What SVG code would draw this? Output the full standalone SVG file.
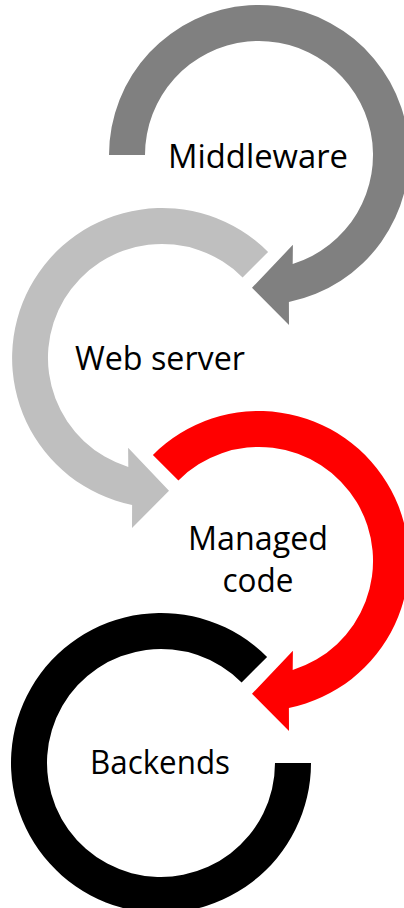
<svg xmlns="http://www.w3.org/2000/svg" width="404" height="908" viewBox="0 0 404 908">
<style>
.lbl{font-family:"Open Sans","Liberation Sans",sans-serif;font-size:32px;fill:#000;text-anchor:middle}
</style>
<rect width="404" height="908" fill="#fff"/>
<g id="middleware">
<path fill="#808080" d="M109,155 A150,150 0 1 1 288.9,302 L289,325 L252,287.8 L292.9,244.8 L292.7,263.9 A114,114 0 1 0 145,155 Z"/>
<text class="lbl" x="258" y="168" textLength="180" lengthAdjust="spacingAndGlyphs">Middleware</text>
</g>
<g id="web-server">
<path fill="#BFBFBF" d="M268.1,251.9 A150,150 0 1 0 132.1,505 L132,528 L169,490.8 L128.1,447.8 L128.3,466.9 A114,114 0 1 1 242.6,277.4 Z"/>
<text class="lbl" x="160" y="370" textLength="170" lengthAdjust="spacingAndGlyphs">Web server</text>
</g>
<g id="managed-code">
<path fill="#FF0000" d="M152.9,454.9 A150,150 0 1 1 288.9,708 L289,731 L252,693.8 L292.9,650.8 L292.7,669.9 A114,114 0 1 0 178.4,480.4 Z"/>
<text class="lbl" x="258" y="550" textLength="140" lengthAdjust="spacingAndGlyphs">Managed</text>
<text class="lbl" x="258" y="592" textLength="71" lengthAdjust="spacingAndGlyphs">code</text>
</g>
<g id="backends">
<path fill="#000000" d="M267.1,656.9 A150,150 0 1 0 311,763 L275,763 A114,114 0 1 1 241.6,682.4 Z"/>
<text class="lbl" x="160" y="774" textLength="140" lengthAdjust="spacingAndGlyphs">Backends</text>
</g>
</svg>
